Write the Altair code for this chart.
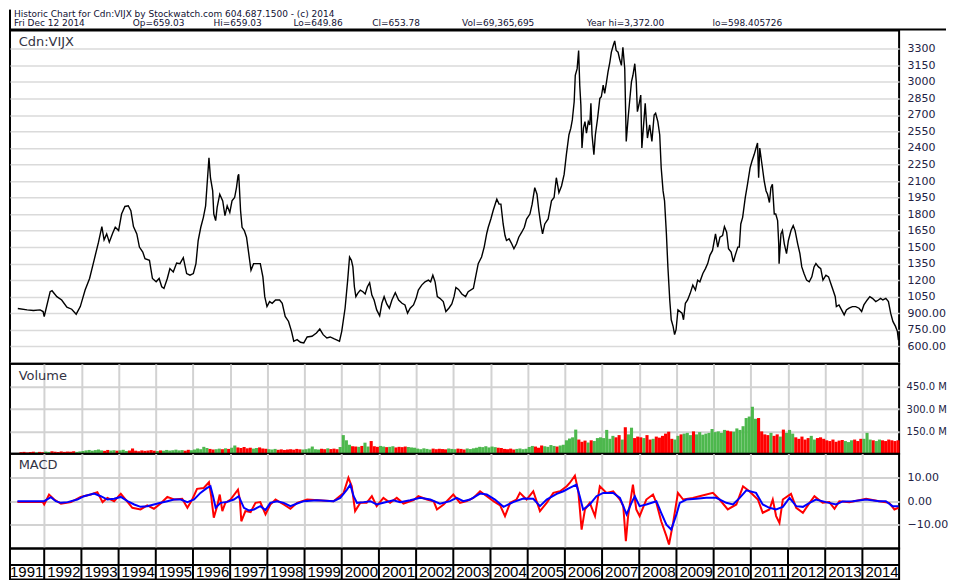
import altair as alt
import pandas as pd
import numpy as np

# ---------------- data ----------------
price_points = [
    (1991.29, 942), (1991.54, 930), (1991.71, 925), (1991.89, 930), (1991.97, 915), (1992.00, 870),
    (1992.16, 1095), (1992.21, 1104), (1992.34, 1050), (1992.47, 1020), (1992.61, 954), (1992.74, 936),
    (1992.86, 891), (1992.97, 960), (1993.10, 1110), (1993.22, 1215), (1993.34, 1380), (1993.46, 1545),
    (1993.55, 1686), (1993.61, 1566), (1993.68, 1620), (1993.75, 1545), (1993.84, 1626), (1993.91, 1680),
    (1994.00, 1650), (1994.08, 1800), (1994.17, 1869), (1994.26, 1875), (1994.33, 1830), (1994.40, 1686),
    (1994.49, 1620), (1994.56, 1500), (1994.65, 1455), (1994.71, 1395), (1994.83, 1380), (1994.91, 1215),
    (1995.01, 1185), (1995.09, 1215), (1995.16, 1140), (1995.22, 1125), (1995.31, 1215), (1995.38, 1305),
    (1995.47, 1275), (1995.56, 1356), (1995.65, 1350), (1995.74, 1404), (1995.83, 1260), (1995.92, 1245),
    (1996.01, 1260), (1996.08, 1350), (1996.14, 1560), (1996.21, 1680), (1996.28, 1770), (1996.34, 1875),
    (1996.38, 2070), (1996.43, 2310), (1996.47, 2130), (1996.53, 2010), (1996.56, 1800), (1996.61, 1740),
    (1996.65, 1860), (1996.72, 1980), (1996.80, 1920), (1996.86, 1785), (1996.92, 1875), (1996.99, 1815),
    (1997.05, 1920), (1997.12, 1950), (1997.17, 2040), (1997.21, 2145), (1997.23, 2160), (1997.28, 1830),
    (1997.32, 1680), (1997.38, 1650), (1997.44, 1590), (1997.50, 1440), (1997.56, 1290), (1997.63, 1350),
    (1997.72, 1350), (1997.81, 1350), (1997.88, 1230), (1997.93, 1050), (1997.99, 960), (1998.06, 1005),
    (1998.13, 990), (1998.22, 1020), (1998.33, 1020), (1998.40, 990), (1998.48, 870), (1998.57, 825),
    (1998.65, 735), (1998.71, 645), (1998.80, 660), (1998.89, 636), (1998.98, 630), (1999.07, 684),
    (1999.20, 690), (1999.32, 720), (1999.41, 756), (1999.50, 705), (1999.60, 675), (1999.69, 684),
    (1999.80, 666), (1999.89, 654), (1999.94, 645), (2000.00, 735), (2000.09, 945), (2000.16, 1200),
    (2000.21, 1410), (2000.26, 1380), (2000.30, 1320), (2000.34, 1140), (2000.38, 1050), (2000.43, 1080),
    (2000.50, 1110), (2000.57, 1095), (2000.63, 1074), (2000.69, 1140), (2000.75, 1176), (2000.81, 1065),
    (2000.87, 1020), (2000.94, 930), (2001.02, 876), (2001.08, 990), (2001.14, 1050), (2001.21, 984),
    (2001.28, 945), (2001.35, 1020), (2001.44, 1086), (2001.53, 1020), (2001.62, 990), (2001.70, 975),
    (2001.77, 900), (2001.84, 945), (2001.93, 975), (2002.00, 1035), (2002.06, 1110), (2002.15, 1155),
    (2002.24, 1185), (2002.33, 1200), (2002.39, 1185), (2002.45, 1245), (2002.51, 1185), (2002.57, 1050),
    (2002.64, 1035), (2002.73, 1005), (2002.80, 915), (2002.88, 945), (2002.96, 984), (2003.02, 1050),
    (2003.07, 1134), (2003.14, 1116), (2003.23, 1074), (2003.33, 1050), (2003.40, 1095), (2003.54, 1125),
    (2003.60, 1230), (2003.67, 1350), (2003.76, 1410), (2003.83, 1500), (2003.90, 1626), (2003.94, 1680),
    (2004.01, 1755), (2004.07, 1830), (2004.14, 1905), (2004.17, 1935), (2004.23, 1890), (2004.28, 1890),
    (2004.34, 1710), (2004.39, 1605), (2004.43, 1560), (2004.50, 1575), (2004.57, 1530), (2004.63, 1485),
    (2004.70, 1530), (2004.76, 1590), (2004.84, 1635), (2004.91, 1680), (2004.97, 1755), (2005.06, 1800),
    (2005.12, 1890), (2005.19, 2040), (2005.25, 1980), (2005.30, 1830), (2005.35, 1710), (2005.40, 1620),
    (2005.46, 1710), (2005.55, 1755), (2005.64, 1920), (2005.71, 1950), (2005.77, 2130), (2005.84, 1995),
    (2005.91, 2055), (2005.98, 2160), (2006.04, 2340), (2006.11, 2520), (2006.16, 2580), (2006.20, 2655),
    (2006.25, 2820), (2006.28, 3060), (2006.33, 3120), (2006.37, 3285), (2006.40, 2970), (2006.43, 2790),
    (2006.46, 2400), (2006.50, 2580), (2006.54, 2640), (2006.58, 2535), (2006.63, 2640), (2006.67, 2610),
    (2006.70, 2805), (2006.73, 2520), (2006.78, 2340), (2006.82, 2520), (2006.88, 2670), (2006.94, 2850),
    (2006.98, 2865), (2007.03, 2970), (2007.07, 2895), (2007.12, 3000), (2007.16, 3090), (2007.21, 3180),
    (2007.25, 3270), (2007.30, 3330), (2007.34, 3372), (2007.38, 3285), (2007.43, 3270), (2007.47, 3210),
    (2007.52, 3150), (2007.56, 3315), (2007.61, 3120), (2007.65, 2460), (2007.70, 2670), (2007.74, 2820),
    (2007.79, 3000), (2007.83, 3060), (2007.88, 3165), (2007.92, 3000), (2007.95, 2730), (2007.99, 2790),
    (2008.04, 2880), (2008.07, 2400), (2008.11, 2580), (2008.16, 2805), (2008.22, 2490), (2008.28, 2610),
    (2008.34, 2460), (2008.40, 2700), (2008.44, 2715), (2008.50, 2640), (2008.55, 2520), (2008.59, 2220),
    (2008.64, 2010), (2008.68, 1920), (2008.73, 1620), (2008.77, 1320), (2008.82, 1020), (2008.86, 840),
    (2008.91, 780), (2008.95, 705), (2008.99, 750), (2009.04, 930), (2009.15, 900), (2009.19, 840),
    (2009.24, 990), (2009.30, 1020), (2009.37, 1080), (2009.44, 1155), (2009.51, 1110), (2009.57, 1200),
    (2009.63, 1185), (2009.71, 1260), (2009.78, 1305), (2009.84, 1350), (2009.90, 1425), (2009.97, 1470),
    (2010.05, 1620), (2010.11, 1500), (2010.17, 1590), (2010.24, 1605), (2010.29, 1686), (2010.35, 1635),
    (2010.40, 1485), (2010.47, 1455), (2010.53, 1365), (2010.58, 1425), (2010.65, 1500), (2010.69, 1500),
    (2010.73, 1710), (2010.78, 1770), (2010.85, 1950), (2010.91, 2070), (2010.98, 2220), (2011.03, 2280),
    (2011.09, 2340), (2011.14, 2400), (2011.18, 2445), (2011.21, 2130), (2011.24, 2400), (2011.30, 2250),
    (2011.36, 2100), (2011.41, 2010), (2011.45, 1980), (2011.50, 1905), (2011.54, 2040), (2011.58, 2070),
    (2011.63, 1800), (2011.67, 1800), (2011.72, 1740), (2011.75, 1530), (2011.76, 1350), (2011.81, 1620),
    (2011.85, 1650), (2011.90, 1530), (2011.96, 1440), (2012.01, 1560), (2012.08, 1650), (2012.14, 1695),
    (2012.19, 1650), (2012.26, 1530), (2012.32, 1440), (2012.37, 1320), (2012.43, 1260), (2012.50, 1200),
    (2012.57, 1185), (2012.64, 1230), (2012.70, 1320), (2012.75, 1350), (2012.82, 1320), (2012.88, 1305),
    (2012.94, 1200), (2013.02, 1245), (2013.09, 1230), (2013.15, 1170), (2013.21, 1110), (2013.27, 1050),
    (2013.30, 960), (2013.37, 975), (2013.44, 930), (2013.51, 885), (2013.57, 930), (2013.64, 945),
    (2013.73, 960), (2013.82, 960), (2013.91, 945), (2013.98, 915), (2014.04, 975), (2014.13, 1020),
    (2014.20, 1050), (2014.27, 1035), (2014.36, 1005), (2014.43, 1020), (2014.49, 1035), (2014.55, 1020),
    (2014.63, 1035), (2014.70, 1005), (2014.76, 900), (2014.82, 825), (2014.89, 780), (2014.94, 735),
    (2014.97, 654),
]

macd_points = [
    (1991.28, -0.3), (1991.96, -0.3), (1992.00, -1.4), (1992.13, 2.8), (1992.27, 0.7), (1992.45, -1.1),
    (1992.72, -0.4), (1992.98, 1.8), (1993.25, 2.8), (1993.43, 3.8), (1993.57, -0.4), (1993.70, 1.4),
    (1993.88, 0.0), (1994.06, 3.1), (1994.19, 0.7), (1994.37, -2.8), (1994.59, -3.5), (1994.77, -1.8),
    (1994.95, -3.2), (1995.13, -1.0), (1995.31, 1.8), (1995.49, 0.7), (1995.71, 1.0), (1995.85, -2.8),
    (1995.98, 0.7), (1996.11, 5.2), (1996.29, 5.6), (1996.43, 8.0), (1996.49, 2.1), (1996.56, -7.0),
    (1996.65, -2.1), (1996.72, 2.8), (1996.79, -4.2), (1996.87, -0.7), (1997.01, 0.7), (1997.21, 4.9),
    (1997.26, 0.7), (1997.30, -8.5), (1997.41, -4.2), (1997.55, -4.6), (1997.68, -0.7), (1997.81, -0.4),
    (1997.95, -5.6), (1998.08, -1.4), (1998.22, 0.7), (1998.44, -1.4), (1998.62, -3.2), (1998.80, -0.7),
    (1999.07, 0.7), (1999.78, 0.0), (2000.05, 3.5), (2000.18, 9.9), (2000.27, 6.3), (2000.36, -4.2),
    (2000.50, -0.7), (2000.67, -0.7), (2000.81, 2.1), (2000.94, -2.1), (2001.12, 1.4), (2001.30, -0.7),
    (2001.48, 1.4), (2001.66, -1.0), (2001.93, 0.4), (2002.06, 2.1), (2002.29, 0.7), (2002.47, 0.0),
    (2002.56, -3.5), (2002.74, -1.4), (2003.00, 2.8), (2003.18, -0.7), (2003.36, 0.0), (2003.54, 1.4),
    (2003.72, 4.2), (2003.90, 2.1), (2004.08, 0.0), (2004.26, -1.8), (2004.39, -6.3), (2004.53, -0.7),
    (2004.70, 0.7), (2004.79, 3.5), (2004.97, 0.7), (2005.15, 4.2), (2005.33, -4.2), (2005.51, -0.7),
    (2005.69, 3.5), (2005.87, 4.2), (2006.05, 6.3), (2006.13, 7.7), (2006.27, 10.8), (2006.36, 4.2),
    (2006.40, -2.8), (2006.45, -12.0), (2006.54, -3.5), (2006.67, -0.7), (2006.81, -6.3), (2006.94, 6.3),
    (2007.12, 3.5), (2007.30, 4.2), (2007.48, 0.7), (2007.57, -2.1), (2007.64, -16.9), (2007.70, -6.3),
    (2007.83, 7.0), (2007.92, -3.5), (2008.01, -6.3), (2008.19, 0.7), (2008.37, 2.8), (2008.46, -0.7),
    (2008.59, -8.5), (2008.73, -14.8), (2008.80, -18.3), (2008.91, -9.2), (2009.04, 3.5), (2009.18, 0.7),
    (2009.44, 1.4), (2009.62, 2.1), (2009.98, 3.5), (2010.16, 0.7), (2010.38, -3.5), (2010.61, -1.4),
    (2010.79, 6.3), (2010.96, 4.2), (2011.19, 0.7), (2011.32, -4.9), (2011.50, -3.5), (2011.59, 0.7),
    (2011.68, -6.3), (2011.77, -9.2), (2011.86, 0.7), (2012.08, 3.1), (2012.22, -2.8), (2012.40, -4.9),
    (2012.58, -0.7), (2012.71, 2.1), (2012.93, -0.7), (2013.11, -0.4), (2013.25, -3.2), (2013.38, 0.0),
    (2013.65, -0.4), (2014.10, 1.0), (2014.45, 0.0), (2014.72, -0.7), (2014.86, -3.5), (2014.97, -2.8),
]

signal_points = [
    (1991.28, 0.0), (1992.00, 0.0), (1992.18, 1.7), (1992.31, 0.0), (1992.45, -0.7), (1992.63, -0.4),
    (1992.89, 0.7), (1993.07, 2.1), (1993.34, 3.2), (1993.52, 2.1), (1993.70, 0.7), (1993.88, 1.0),
    (1994.06, 1.8), (1994.24, 0.0), (1994.42, -1.4), (1994.59, -2.4), (1994.77, -2.1), (1994.95, -1.4),
    (1995.13, -0.7), (1995.31, 0.0), (1995.49, 0.7), (1995.67, 0.7), (1995.85, -0.4), (1996.03, 0.7),
    (1996.20, 3.5), (1996.38, 5.6), (1996.47, 6.3), (1996.54, 2.1), (1996.61, -2.8), (1996.74, -0.7),
    (1996.92, -0.3), (1997.10, 0.7), (1997.23, 2.1), (1997.37, -2.8), (1997.50, -3.9), (1997.64, -3.5),
    (1997.81, -2.1), (1997.95, -3.8), (1998.08, -0.7), (1998.26, 0.0), (1998.44, -0.7), (1998.62, -2.1),
    (1998.80, -1.0), (1998.98, 0.0), (1999.33, 0.4), (1999.78, 0.0), (1999.96, 1.4), (2000.14, 4.9),
    (2000.23, 7.0), (2000.32, 2.1), (2000.41, -0.7), (2000.59, -0.4), (2000.77, 0.0), (2000.94, -1.4),
    (2001.12, -0.7), (2001.39, 0.4), (2001.57, -0.4), (2001.84, 0.4), (2002.11, 1.4), (2002.38, 0.7),
    (2002.64, -1.1), (2002.91, 0.0), (2003.09, 1.4), (2003.27, 0.0), (2003.45, 0.7), (2003.72, 3.2),
    (2003.90, 2.8), (2004.12, 0.7), (2004.35, -2.4), (2004.61, -0.4), (2004.88, 1.1), (2005.15, 1.0),
    (2005.33, -2.1), (2005.51, 0.7), (2005.78, 3.1), (2005.96, 4.2), (2006.13, 5.6), (2006.31, 7.0),
    (2006.40, 2.1), (2006.49, -3.5), (2006.67, -1.4), (2006.85, 2.1), (2007.03, 3.5), (2007.30, 3.5),
    (2007.48, 1.4), (2007.66, -5.6), (2007.79, -0.7), (2007.88, 2.1), (2008.01, -2.1), (2008.19, -1.4),
    (2008.46, 0.0), (2008.59, -4.9), (2008.73, -9.9), (2008.86, -12.0), (2009.00, -5.6), (2009.09, -0.7),
    (2009.27, 0.7), (2009.53, 1.0), (2009.80, 1.4), (2010.07, 1.4), (2010.34, -0.7), (2010.52, -1.4),
    (2010.70, 1.4), (2010.88, 4.6), (2011.14, 3.5), (2011.32, -1.4), (2011.50, -2.8), (2011.68, -3.5),
    (2011.86, -2.4), (2012.04, 1.4), (2012.22, -2.1), (2012.40, -2.4), (2012.58, -0.7), (2012.75, 0.7),
    (2013.02, -0.4), (2013.29, -1.4), (2013.47, -0.1), (2013.74, 0.0), (2014.10, 0.7), (2014.45, 0.0),
    (2014.63, 0.0), (2014.81, -2.1), (2014.97, -2.1),
]

# monthly volume in millions, first month = May 1991
volume_start = (1991, 5)
volume_millions = [
    10, 12, 8, 11, 13, 9, 12, 10,
    14, 12, 16, 13, 11, 15, 12, 14, 13, 16, 12, 15,
    18, 22, 25, 20, 24, 28, 22, 19, 25, 21, 23, 20,
    22, 26, 18, 21, 35, 20, 17, 22, 19, 21, 24, 20,
    18, 22, 20, 25, 21, 23, 27, 22, 24, 20, 26, 23,
    28, 35, 30, 46, 38, 32, 28, 30, 34, 30, 36, 32,
    40, 55, 42, 38, 45, 36, 40, 34, 38, 42, 35, 33,
    30, 28, 32, 26, 29, 25, 28, 30, 27, 32, 29, 28,
    30, 35, 48, 30, 28, 33, 30, 36, 31, 34, 30, 45,
    125, 90, 60, 50, 48, 46, 52, 74, 48, 85, 50, 46,
    52, 48, 44, 46, 50, 42, 46, 44, 48, 45, 42, 40,
    34, 30, 36, 32, 28, 34, 30, 33, 31, 29, 35, 32,
    30, 34, 32, 28, 35, 31, 36, 40, 46, 44, 50, 42,
    48, 44, 40, 38, 32, 30, 34, 28, 32, 35, 30, 33,
    45, 52, 48, 40, 55, 50, 46, 58, 52, 48, 55, 60,
    90, 102, 110, 162, 95, 80, 88, 75, 90, 85, 105, 110,
    105, 160, 100, 120, 110, 125, 95, 178, 130, 175, 105, 115,
    110, 105, 125, 95, 100, 115, 108, 120, 135, 148, 100, 95,
    120, 130, 135, 140, 125, 150, 130, 145, 128, 135, 140, 166,
    145, 150, 140, 160, 155, 150, 148, 170, 160, 185, 240, 250,
    316, 235, 240, 150, 130, 125, 140, 120, 130, 115, 162, 140,
    160, 135, 110, 100, 115, 95, 105, 120, 95, 105, 110, 100,
    90, 85, 95, 80, 88, 92, 85, 78, 90, 95, 85, 100,
    100, 140, 95, 90, 85, 95, 90, 85, 95, 90, 85, 90,
]

year_labels = list(range(1991, 2015))
price_ticks = [450] + list(range(600, 3301, 150))
volume_ticks = [150, 300, 450]
macd_ticks = [-10, 0, 10]

header_line1 = "Historic Chart for Cdn:VIJX by Stockwatch.com 604.687.1500 - (c) 2014"
header_line2 = ["Fri Dec 12 2014", "Op=659.03", "Hi=659.03", "Lo=649.86", "Cl=653.78",
                "Vol=69,365,695", "Year hi=3,372.00", "lo=598.405726"]

# ---------------- layout / style ----------------
FONT = "DejaVu Sans"
W = 891
X_DOMAIN = [1991.08, 2014.987]
xscale = alt.Scale(domain=X_DOMAIN, nice=False, zero=False)
LBL = "#222244"
GRID = "#d2d2d2"
HDR_FS = 9
line2_x = [13, 132, 213, 293, 372, 462, 587, 713]

price_df = pd.DataFrame(price_points, columns=["year", "close"])
macd_df = pd.DataFrame(macd_points, columns=["year", "v"])
sig_df = pd.DataFrame(signal_points, columns=["year", "v"])

m0 = volume_start[0] + (volume_start[1] - 1) / 12.0
starts = np.array([m0 + i / 12.0 for i in range(len(volume_millions))])
ends = starts + 1 / 12.0
p_s = np.interp(starts, price_df["year"], price_df["close"])
p_e = np.interp(ends, price_df["year"], price_df["close"])
vol_df = pd.DataFrame({
    "start": starts, "end": ends, "vol": volume_millions,
    "dir": np.where(p_e >= p_s, "up", "down"),
})
one = pd.DataFrame({"k": [0]})

# ---------------- header ----------------
hdr_layers = [alt.Chart(one).mark_text(text=header_line1, align="left", baseline="alphabetic",
                                       font=FONT, fontSize=HDR_FS, color="#111133").encode(
    x=alt.value(13 - 9), y=alt.value(8.4))]
for w, px in zip(header_line2, line2_x):
    hdr_layers.append(alt.Chart(one).mark_text(text=w, align="left", baseline="alphabetic",
                      font=FONT, fontSize=HDR_FS, color="#111133").encode(
        x=alt.value(px - 9), y=alt.value(17.4)))
hdr_layers.append(alt.Chart(one).mark_rule(color="black", strokeWidth=2).encode(
    x=alt.value(0), x2=alt.value(938), y=alt.value(21)))
hdr_layers.append(alt.Chart(one).mark_rule(color="black", strokeWidth=2).encode(
    x=alt.value(0), y=alt.value(1), y2=alt.value(22)))
header = alt.layer(*hdr_layers).properties(width=W, height=22,
                                           view=alt.ViewBackground(stroke=None))

# ---------------- price ----------------
price_line = alt.Chart(price_df).mark_line(color="black", strokeWidth=1.4).encode(
    x=alt.X("year:Q", scale=xscale, axis=None),
    y=alt.Y("close:Q", scale=alt.Scale(domain=[440, 3466], nice=False, zero=False),
            axis=alt.Axis(orient="right", values=price_ticks, grid=True, gridColor="#dadada",
                          gridWidth=1.5, domain=False, ticks=False, labelPadding=8,
                          labelFont=FONT, labelFontSize=11, labelColor=LBL, title=None,
                          labelOverlap=False,
                          labelExpr="datum.value < 600 ? '' : (datum.value < 1000 ? format(datum.value, '.2f') : format(datum.value, 'd'))")),
)
price_lbl = alt.Chart(one).mark_text(text="Cdn:VIJX", align="left", baseline="alphabetic",
                                     font=FONT, fontSize=13, color="#333344").encode(
    x=alt.value(8.7), y=alt.value(15.7))
price = alt.layer(price_line, price_lbl).properties(width=W, height=334)

# ---------------- volume ----------------
xgrid_axis = alt.Axis(values=list(range(1992, 2015)), grid=True, gridColor=GRID, gridWidth=2,
                      labels=False, ticks=False, domain=False, title=None)
vol_bars = alt.Chart(vol_df).mark_bar().encode(
    x=alt.X("start:Q", scale=xscale, axis=xgrid_axis),
    x2="end:Q",
    y=alt.Y("vol:Q", scale=alt.Scale(domain=[0, 605], nice=False),
            axis=alt.Axis(orient="right", values=volume_ticks, grid=True, gridColor=GRID,
                          gridWidth=2, domain=False, ticks=False, labelPadding=7,
                          labelFont=FONT, labelFontSize=10, labelColor=LBL, title=None,
                          labelExpr="format(datum.value, '.1f') + ' M'")),
    y2=alt.datum(0),
    color=alt.Color("dir:N", scale=alt.Scale(domain=["up", "down"], range=["#4db84d", "#ff0000"]),
                    legend=None),
)
vol_lbl = alt.Chart(one).mark_text(text="Volume", align="left", baseline="alphabetic",
                                   font=FONT, fontSize=13, color="#333344").encode(
    x=alt.value(8.7), y=alt.value(16))
volume = alt.layer(vol_bars, vol_lbl).properties(width=W, height=90)

# ---------------- MACD ----------------
macd_scale = alt.Scale(domain=[-20, 20.1], nice=False, zero=False)
macd_line = alt.Chart(macd_df).mark_line(color="#ff0000", strokeWidth=2).encode(
    x=alt.X("year:Q", scale=xscale, axis=xgrid_axis),
    y=alt.Y("v:Q", scale=macd_scale,
            axis=alt.Axis(orient="right", values=macd_ticks, grid=True, gridColor=GRID,
                          gridWidth=2, domain=False, ticks=False, labelPadding=8,
                          labelFont=FONT, labelFontSize=11, labelColor=LBL, title=None,
                          format=".2f")),
)
sig_line = alt.Chart(sig_df).mark_line(color="#0000ff", strokeWidth=2).encode(
    x=alt.X("year:Q", scale=xscale),
    y=alt.Y("v:Q", scale=macd_scale),
)
macd_lbl = alt.Chart(one).mark_text(text="MACD", align="left", baseline="alphabetic",
                                    font=FONT, fontSize=13, color="#333344").encode(
    x=alt.value(8.7), y=alt.value(15.3))
macd = alt.layer(macd_line, sig_line, macd_lbl).properties(width=W, height=95)

# ---------------- year row ----------------
yr_df = pd.DataFrame({"year": year_labels, "label": [str(y) for y in year_labels]})
yr_rules = alt.Chart(yr_df[yr_df["year"] >= 1992]).mark_rule(color="black", strokeWidth=2).encode(
    x=alt.X("year:Q", scale=xscale, axis=None))
yr_sep = alt.Chart(one).mark_rule(color="black", strokeWidth=2).encode(
    x=alt.value(0), x2=alt.value(W), y=alt.value(16.5))
yr_text = alt.Chart(yr_df).mark_text(align="left", baseline="alphabetic", dx=3,
                                     font="Liberation Sans", fontSize=15, color="black").encode(
    x=alt.X("year:Q", scale=xscale, axis=None), y=alt.value(29), text="label:N")
years = alt.layer(yr_rules, yr_sep, yr_text).properties(width=W, height=31)

chart = alt.vconcat(header, price, volume, macd, years, spacing=0, bounds="flush").properties(
    padding={"left": 0, "top": 0, "right": 0, "bottom": -2},
    background="white",
).configure_view(stroke="black", strokeWidth=2)

chart.save("out.html", embed_options={"renderer": "svg", "actions": False})
